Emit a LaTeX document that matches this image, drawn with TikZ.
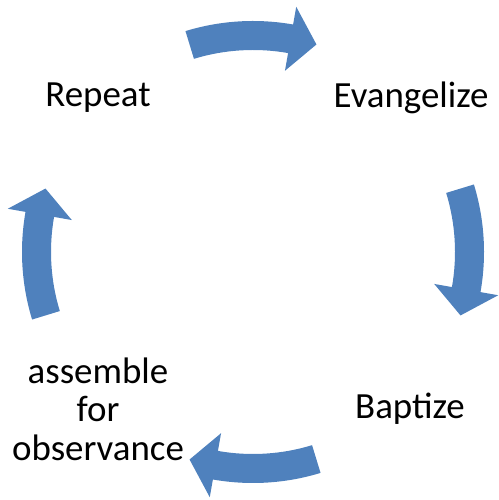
\documentclass[tikz,border=0pt]{standalone}
\usepackage{fontspec}
\setmainfont{Carlito}

\definecolor{cycleblue}{RGB}{79,129,189}

% curved block arrow, clockwise, centred on direction #1
\newcommand{\cyclearrow}[1]{%
  \fill[cycleblue] ({#1+17}:231) arc[start angle={#1+17}, end angle={#1-10}, radius=231]
    -- ({#1-10}:249) -- ({#1-17}:217) -- ({#1-10}:184)
    -- ({#1-10}:202) arc[start angle={#1-10}, end angle={#1+17}, radius=202] -- cycle;}

\begin{document}
\begin{tikzpicture}[x=0.02cm, y=0.02cm,
    steplabel/.style={font=\fontsize{21}{22}\selectfont, align=center, inner sep=0pt}]
  \useasboundingbox (0,0) rectangle (498,500);

  % Pfeile im Kreis
  \begin{scope}[shift={(253,248)}]
    \cyclearrow{90}
    \cyclearrow{0}
    \cyclearrow{-90}
    \cyclearrow{180}
  \end{scope}

  % Beschriftungen
  \node[steplabel] (evangelize) at (411,402) {Evangelize};
  \node[steplabel] (baptize) at (410,91) {Baptize};
  \node[steplabel] (assemble) at (98,91) {assemble\\for\\observance};
  \node[steplabel] (repeat) at (98,402) {Repeat};
\end{tikzpicture}
\end{document}
